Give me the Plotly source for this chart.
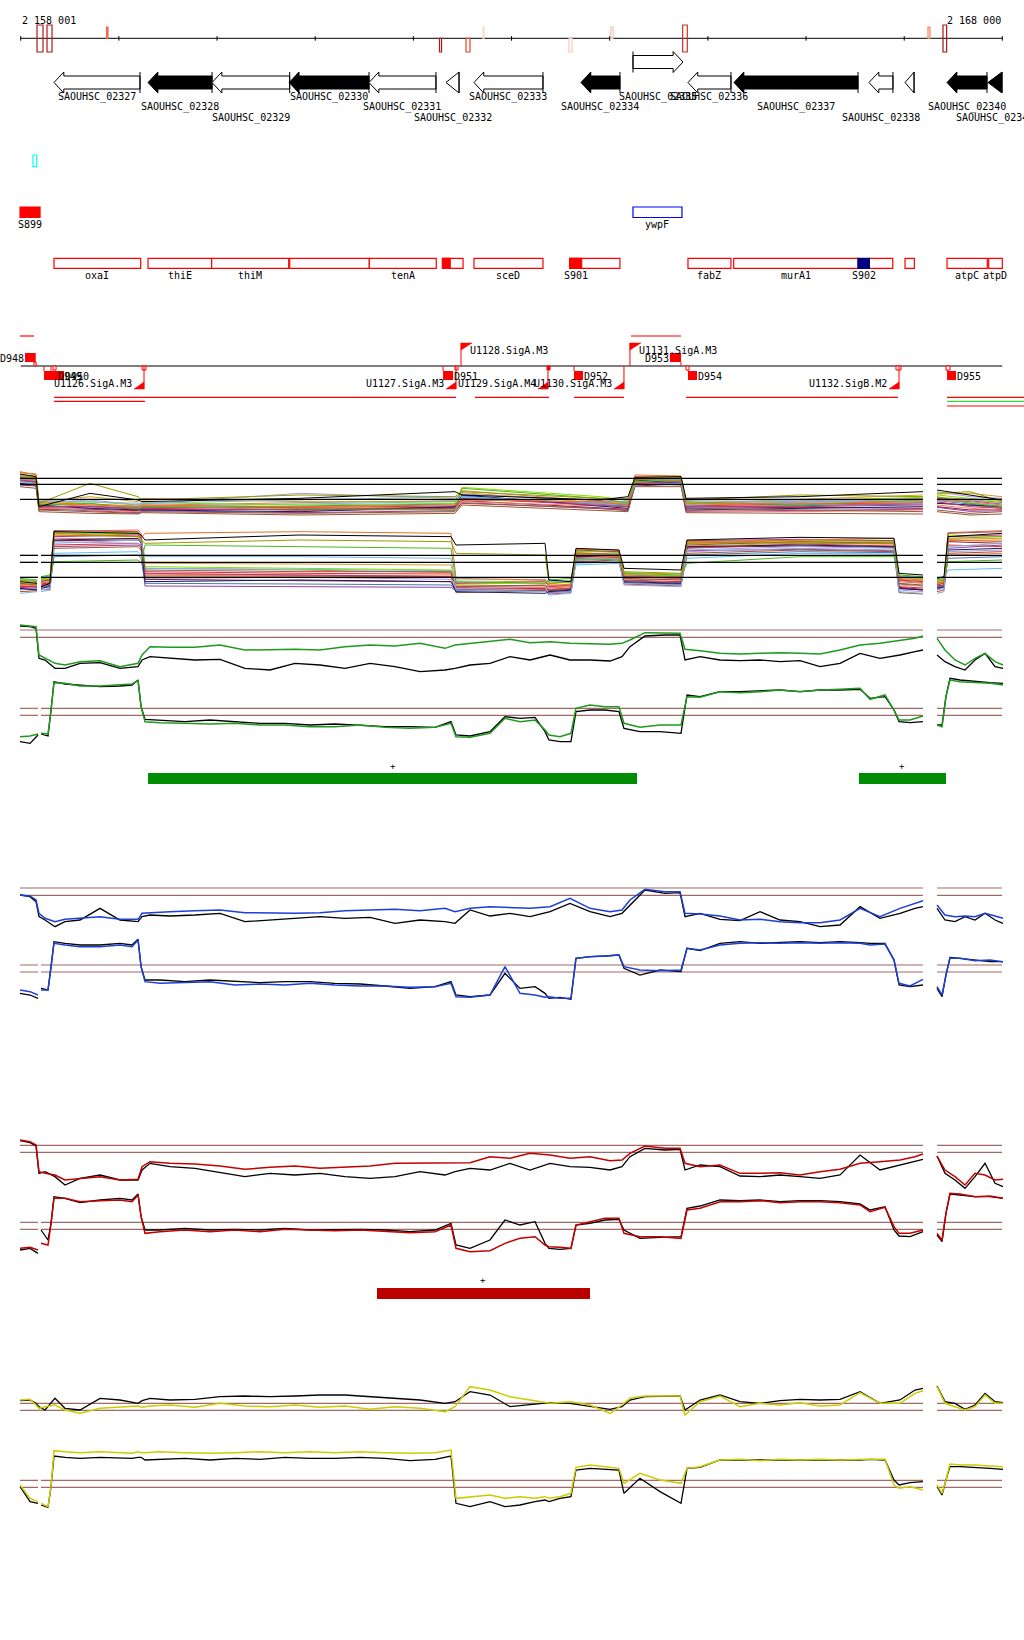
import plotly.graph_objects as go

# ======================= DATA (positions = bp offset from REGION_START) =======================
REGION_START = 2158001
REGION_END = 2168000
COORD_LABELS = ["2 158 001", "2 168 000"]
COORD_LABEL_POS = [0, 9999]
AXIS_TICKS = [0, 1000, 2000, 3000, 4000, 5000, 6000, 7000, 8000, 9000, 9999]

# small features drawn on the coordinate ruler
MARK_START = [166, 268, 874, 4266, 4536, 4709, 5585, 6010, 6743, 9242, 9395]
MARK_END = [227, 319, 889, 4287, 4577, 4719, 5616, 6033, 6790, 9262, 9432]
MARK_SIDE = ["both", "both", "up", "down", "down", "up", "down", "up", "both", "up", "both"]
MARK_COLOR = ["#b01818", "#b01818", "#f0694a", "#b01818", "#e0402a", "#f9d9cf",
              "#f7c9bb", "#f3c2b2", "#c8321f", "#f4835e", "#a81414"]
MARK_FILLED = [False, False, True, False, False, True, False, False, False, False, False]

# genes
GENE_NAME = ["SAOUHSC_02327", "SAOUHSC_02328", "SAOUHSC_02329", "SAOUHSC_02330", "SAOUHSC_02331",
             "SAOUHSC_02332", "SAOUHSC_02333", "SAOUHSC_02334", "SAOUHSC_02335", "SAOUHSC_02336",
             "SAOUHSC_02337", "SAOUHSC_02338", "SAOUHSC_02339", "SAOUHSC_02340", "SAOUHSC_02341"]
GENE_START = [339, 1297, 1949, 2735, 3548, 4332, 4617, 5707, 6237, 6797, 7266, 8641, 9008, 9436, 9853]
GENE_END = [1215, 1949, 2740, 3548, 4230, 4465, 5320, 6104, 6746, 7235, 8529, 8885, 9100, 9843, 9996]
GENE_STRAND = ["-", "-", "-", "-", "-", "-", "-", "-", "+", "-", "-", "-", "-", "-", "-"]
GENE_BLACK = [0, 1, 0, 1, 0, 0, 0, 1, 0, 0, 1, 0, 0, 1, 1]
GENE_LABEL_ROW = [0, 1, 2, 0, 1, 2, 0, 1, 0, 0, 1, 2, None, 1, 2]

# small cyan feature
CYAN_START, CYAN_END = 125, 163

# feature row
FEAT_NAME = ["S899", "ywpF"]
FEAT_START = [-7, 6237]
FEAT_END = [197, 6736]
FEAT_FILL = ["#ff0000", None]
FEAT_LINE = ["#ff0000", "#0000ff"]

# operon / transcription units row
OPERON_LABEL = ["oxaI", "thiE", "thiM", "", "tenA", "", "sceD", "", "fabZ", "murA1", "", "", "atpC", "atpD"]
OPERON_START = [339, 1297, 1945, 2740, 3551, 4296, 4617, 5592, 6797, 7263, 8645, 9008, 9436, 9860]
OPERON_END = [1222, 1945, 2730, 3551, 4233, 4506, 5320, 6104, 7235, 8529, 8883, 9103, 9846, 9999]
SFEAT_NAME = ["", "S901", "S902"]
SFEAT_START = [4296, 5592, 8529]
SFEAT_END = [4375, 5714, 8645]
SFEAT_COLOR = ["#ff0000", "#ff0000", "#000080"]

# terminators
TERM_NAME = ["D948", "D949", "D950", "D951", "D952", "D953", "D954", "D955"]
TERM_START = [44, 237, 309, 4302, 5636, 6613, 6797, 9436]
TERM_END = [153, 370, 441, 4404, 5728, 6726, 6889, 9527]
TERM_STRAND = ["+", "-", "-", "-", "-", "+", "-", "-"]

# promoters
PROM_NAME = ["U1126.SigA.M3", "U1127.SigA.M3", "U1128.SigA.M3", "U1129.SigA.M4",
             "U1130.SigA.M3", "U1131.SigA.M3", "U1132.SigB.M2"]
PROM_POS = [1256, 4434, 4485, 5371, 6145, 6206, 8947]
PROM_STRAND = ["-", "-", "+", "-", "-", "+", "-"]

# start sites on the promoter line
SITE_START = [135, 329, 1236, 4424, 5361, 6777, 8916, 9425]
SITE_END = [156, 360, 1276, 4455, 5392, 6808, 8967, 9466]
SITE_SIDE = ["up", "down", "down", "down", "down", "down", "down", "down"]
SITE_FILLED = [0, 0, 0, 0, 1, 0, 0, 0]

# transcripts
TX_START = [-7, 6216, 339, 4627, 5636, 6777, 9436, 339, 9436, 9436]
TX_END = [135, 6726, 4434, 5381, 6145, 8937, 10220, 1266, 10220, 10220]
TX_ROW = [0, 0, 1, 1, 1, 1, 1, 2, 2, 3]
TX_COLOR = ["#ff0000"] * 8 + ["#33dd33", "#ff0000"]

# significance bars
GREEN_BAR_START = [1297, 8539]
GREEN_BAR_END = [6278, 9425]
RED_BAR_START = [3629]
RED_BAR_END = [5799]

# ---------- expression profiles ----------
# upper strand grid (bp)
U_POS = [-7, 95, 156, 186, 248, 349, 451, 604, 808, 1011, 1195, 1236, 1317, 1520, 1775, 2030, 2284,
         2539, 2794, 3048, 3303, 3558, 3812, 4067, 4322, 4424, 4577, 4780, 4984, 5188, 5392, 5595,
         5799, 6003, 6125, 6206, 6359, 6563, 6716, 6767, 6920, 7123, 7327, 7531, 7735, 7938, 8142,
         8346, 8550, 8753, 8957, 9110, 9191, None, 9334, 9415, 9517, 9619, 9721, 9823, 9925, 10006]
# lower strand grid (bp)
L_POS = [-7, 95, 176, None, 207, 278, 309, 339, 451, 604, 808, 1011, 1134, 1195, 1226, 1266, 1419,
         1673, 1928, 2182, 2437, 2692, 2947, 3201, 3456, 3711, 3965, 4220, 4383, 4434, 4577, 4780,
         4933, 5086, 5239, 5341, 5381, 5493, 5605, 5656, 5799, 5952, 6094, 6145, 6308, 6512, 6726,
         6787, 6920, 7123, 7327, 7531, 7735, 7938, 8142, 8346, 8550, 8652, 8804, 8896, 8947, 9059,
         9191, None, 9334, 9385, 9425, 9466, 9568, 9721, 9874, 10006]

GREEN_UP_COLOR = [15.5, 15.2, 15.0, 6.5, 5.5, 4.0, 3.5, 4.5, 4.8, 3.0, 4.0, 6.5, 9.0, 8.8, 8.8, 9.5, 8.0,
                  8.2, 8.2, 8.0, 9.0, 9.5, 9.2, 10.0, 8.5, 9.5, 10.0, 10.5, 11.2, 10.2, 10.5, 10.0, 9.8,
                  9.7, 10.0, 11.0, 13.2, 13.0, 13.0, 8.2, 7.8, 7.0, 6.8, 7.0, 7.2, 7.0, 6.8, 8.0, 9.5,
                  10.0, 10.8, 11.5, 12.2, None, 11.5, 8.0, 5.0, 3.5, 5.5, 7.0, 4.5, 3.5]
GREEN_UP_BLACK = [15.2, 15.0, 14.5, 5.5, 5.0, 2.5, 2.5, 4.0, 4.2, 2.5, 3.0, 5.0, 6.0, 5.5, 5.0, 5.2, 2.5,
                  2.0, 4.0, 3.5, 2.5, 4.0, 3.0, 1.5, 2.0, 2.5, 3.5, 4.0, 6.0, 5.0, 6.5, 5.0, 5.0, 4.7,
                  6.0, 9.0, 12.2, 12.5, 12.5, 5.0, 6.0, 5.0, 4.8, 5.0, 4.5, 4.8, 3.0, 4.0, 7.0, 5.5,
                  6.5, 7.5, 8.0, None, 6.5, 4.5, 3.0, 2.0, 5.0, 7.0, 3.0, 2.5]
GREEN_LOW_COLOR = [4.0, 4.2, 4.8, None, 5.0, 4.8, 12.0, 20.2, 20.0, 19.2, 19.2, 19.5, 19.8, 20.8, 13.0,
                   8.5, 8.2, 8.0, 7.8, 8.0, 7.5, 7.5, 7.0, 7.0, 7.5, 6.8, 6.5, 6.8, 8.0, 4.0, 3.8, 5.0,
                   9.5, 8.5, 9.0, 6.0, 4.5, 4.0, 5.0, 12.5, 13.5, 13.0, 13.0, 8.0, 6.8, 7.5, 7.5, 16.0,
                   15.8, 17.5, 17.2, 17.5, 18.0, 17.5, 18.0, 18.2, 18.5, 15.2, 16.5, 12.0, 9.0, 9.0,
                   10.2, None, 7.5, 7.0, 16.0, 21.0, 20.5, 20.2, 20.0, 19.5]
GREEN_LOW_BLACK = [2.5, 2.0, 4.5, None, 4.8, 4.2, 12.0, 20.5, 19.8, 19.5, 19.0, 19.2, 19.5, 21.0, 13.0,
                   9.2, 9.0, 8.5, 9.0, 8.5, 8.0, 8.0, 7.5, 7.8, 7.5, 7.0, 7.0, 6.8, 8.5, 4.5, 4.2, 5.5,
                   10.0, 9.5, 9.8, 5.5, 3.0, 2.5, 2.5, 11.5, 12.0, 12.0, 11.5, 6.5, 5.5, 5.5, 5.0, 16.5,
                   16.0, 17.5, 17.5, 17.8, 18.0, 17.5, 18.0, 18.0, 18.2, 15.5, 16.0, 12.0, 8.5, 8.2,
                   8.5, None, 7.5, 7.5, 16.0, 21.5, 21.0, 20.5, 20.2, 20.0]

BLUE_UP_COLOR = [10.5, 10.2, 9.0, 5.0, 3.5, 2.5, 3.2, 3.5, 4.0, 3.2, 3.2, 5.0, 5.2, 5.5, 5.8, 6.0, 5.2,
                 5.0, 5.0, 5.2, 5.8, 6.0, 6.2, 5.8, 6.5, 5.5, 6.5, 7.0, 6.8, 6.5, 7.0, 9.5, 6.5, 5.5,
                 6.0, 9.0, 12.2, 11.5, 11.5, 5.0, 4.8, 4.2, 3.0, 3.2, 2.5, 2.2, 2.2, 3.0, 6.5, 4.0,
                 6.5, 8.0, 8.8, None, 7.5, 4.5, 4.0, 4.2, 4.0, 5.0, 4.2, 3.5]
BLUE_UP_BLACK = [10.5, 10.0, 8.5, 4.0, 3.0, 1.0, 2.5, 3.0, 6.5, 3.0, 2.5, 4.0, 4.5, 4.2, 4.5, 5.0, 2.5,
                 3.0, 3.5, 4.0, 3.5, 3.8, 2.0, 3.0, 2.5, 2.0, 6.0, 4.2, 5.0, 4.0, 5.5, 8.0, 5.5, 4.0,
                 5.0, 7.5, 12.0, 11.0, 11.2, 4.0, 5.0, 3.2, 2.8, 5.5, 3.0, 2.5, 1.0, 1.5, 7.0, 3.5,
                 5.0, 6.5, 7.0, None, 6.5, 3.0, 2.5, 4.0, 3.0, 5.0, 3.0, 2.0]
BLUE_LOW_COLOR = [5.0, 4.5, 3.5, None, 5.0, 5.0, 12.0, 19.0, 18.5, 18.0, 18.0, 18.5, 18.0, 20.0, 12.0,
                  7.5, 7.0, 7.2, 7.5, 6.5, 6.8, 6.5, 7.0, 6.5, 6.2, 6.2, 5.8, 6.0, 7.0, 3.0, 2.8, 3.5,
                  12.0, 4.0, 3.5, 2.8, 3.0, 2.5, 2.5, 14.5, 15.0, 15.2, 15.5, 12.0, 11.0, 10.8, 11.0,
                  17.5, 17.0, 18.5, 19.0, 19.2, 19.0, 19.2, 19.0, 19.2, 19.0, 18.5, 18.8, 14.0, 7.0,
                  6.2, 8.2, None, 6.0, 3.5, 9.5, 14.5, 14.5, 13.8, 14.0, 13.5]
BLUE_LOW_BLACK = [4.0, 3.5, 2.5, None, 5.5, 5.0, 12.0, 19.5, 19.0, 18.5, 18.5, 19.0, 18.5, 20.2, 12.0,
                  8.0, 8.0, 7.5, 8.0, 7.5, 7.2, 7.5, 7.5, 7.0, 6.8, 6.2, 5.5, 6.0, 7.5, 3.5, 3.0, 3.5,
                  10.0, 5.5, 6.0, 4.0, 2.5, 2.8, 2.2, 14.5, 15.0, 15.2, 15.5, 11.5, 9.5, 11.0, 10.5,
                  17.5, 16.8, 19.0, 19.5, 19.0, 19.2, 19.5, 19.2, 19.5, 19.2, 19.0, 19.0, 14.0, 6.5,
                  6.0, 6.5, None, 5.5, 3.0, 9.5, 14.8, 14.5, 14.0, 13.5, 13.5]

RED_UP_COLOR = [15.0, 14.5, 13.5, 5.5, 5.0, 4.5, 3.0, 3.5, 4.0, 3.0, 3.2, 7.0, 8.5, 8.0, 7.8, 7.2, 6.2,
                6.8, 7.2, 6.5, 6.8, 7.2, 8.0, 8.0, 8.2, 8.0, 8.2, 10.0, 9.5, 11.0, 10.5, 9.5, 10.0, 8.8,
                9.0, 11.0, 13.2, 12.5, 12.5, 8.0, 7.0, 7.5, 5.0, 5.0, 5.2, 4.5, 5.5, 6.2, 8.0, 8.5,
                9.0, 10.0, 10.8, None, 10.2, 6.0, 4.0, 1.5, 5.0, 4.5, 3.0, 3.2]
RED_UP_BLACK = [14.8, 14.2, 13.2, 5.0, 5.5, 4.0, 1.5, 3.5, 4.5, 3.0, 3.0, 6.0, 8.0, 7.0, 6.5, 5.2, 4.0,
                5.0, 4.5, 5.0, 4.0, 3.5, 4.0, 5.5, 4.5, 5.5, 6.5, 6.0, 8.0, 6.0, 8.0, 7.0, 6.8, 6.0,
                7.0, 10.0, 12.5, 12.0, 12.2, 6.0, 7.5, 7.0, 4.2, 4.0, 4.5, 4.0, 3.5, 4.5, 10.5, 6.0,
                7.5, 8.5, 9.2, None, 10.2, 5.0, 3.0, 0.5, 4.0, 8.0, 2.0, 1.0]
RED_LOW_COLOR = [3.5, 3.8, 3.0, None, 5.0, 4.5, 11.0, 18.5, 18.5, 17.5, 17.8, 18.0, 17.5, 19.5, 13.0,
                 8.0, 8.5, 9.0, 8.5, 9.0, 8.5, 9.2, 9.0, 8.8, 9.0, 8.5, 8.2, 8.5, 10.5, 3.5, 2.5, 2.8,
                 5.0, 6.5, 7.0, 4.5, 4.0, 3.8, 3.5, 10.5, 11.5, 12.5, 12.5, 8.0, 7.0, 7.0, 6.5, 15.0,
                 15.5, 17.5, 17.5, 17.8, 17.2, 17.5, 17.5, 17.2, 16.5, 14.5, 15.8, 10.0, 8.0, 8.0,
                 9.0, None, 8.0, 6.0, 14.0, 20.0, 19.8, 19.0, 19.2, 18.5]
RED_LOW_BLACK = [3.0, 3.5, 2.0, None, 9.0, 6.0, 11.0, 19.0, 18.5, 17.2, 18.0, 18.5, 18.0, 19.8, 13.0,
                 9.0, 9.0, 9.5, 9.0, 9.2, 9.0, 9.5, 9.0, 9.2, 9.2, 9.0, 8.5, 9.0, 11.0, 4.5, 3.5, 6.0,
                 12.0, 10.5, 11.5, 5.0, 3.5, 3.2, 3.5, 10.5, 11.0, 12.0, 12.2, 9.0, 6.5, 6.8, 7.0,
                 15.5, 16.2, 18.0, 17.8, 18.0, 17.5, 17.8, 17.8, 17.5, 16.8, 15.0, 16.0, 9.0, 7.2,
                 7.0, 8.5, None, 7.5, 5.5, 14.0, 19.8, 19.5, 19.0, 19.0, 18.5]

YELLOW_UP_COLOR = [7.0, 7.2, 5.5, 4.5, 5.0, 5.5, 4.0, 3.0, 4.5, 4.8, 5.2, 4.8, 5.2, 5.5, 4.8, 6.0, 5.2,
                   5.0, 5.5, 4.8, 5.2, 4.2, 5.0, 4.5, 3.5, 5.0, 11.0, 10.0, 8.0, 7.0, 6.0, 6.5, 5.5, 3.0,
                   5.5, 7.5, 8.2, 8.2, 8.2, 2.5, 6.5, 8.2, 5.0, 6.0, 5.5, 6.2, 5.2, 5.5, 9.2, 6.0, 6.0,
                   9.0, 9.8, None, 11.0, 6.0, 5.0, 4.0, 5.0, 8.5, 6.0, 6.0]
YELLOW_UP_BLACK = [6.8, 7.0, 6.0, 5.0, 4.0, 7.5, 4.5, 4.0, 7.5, 7.0, 6.0, 6.8, 7.5, 7.0, 7.2, 8.0, 8.2,
                   8.0, 8.2, 8.5, 8.5, 8.0, 7.5, 7.0, 6.0, 6.5, 9.5, 8.5, 5.0, 5.5, 6.2, 6.0, 5.0, 4.2,
                   5.0, 7.0, 8.0, 8.2, 8.2, 4.0, 7.0, 8.5, 6.5, 6.0, 6.8, 7.2, 7.0, 7.2, 9.5, 6.0, 7.0,
                   10.0, 10.5, None, 11.2, 6.5, 6.0, 4.2, 5.5, 9.0, 6.5, 6.2]
YELLOW_LOW_COLOR = [8.5, 4.5, 3.5, None, 3.0, 2.0, 8.0, 18.8, 18.5, 18.2, 18.5, 18.2, 18.0, 18.5, 18.2,
                    18.2, 18.5, 18.2, 18.0, 18.2, 18.5, 18.2, 18.5, 18.2, 18.5, 18.2, 18.0, 18.2, 19.0,
                    4.5, 5.0, 5.5, 4.5, 5.0, 4.5, 5.0, 4.5, 5.0, 6.0, 13.8, 14.5, 14.0, 13.5, 9.0, 12.0,
                    10.0, 9.0, 13.5, 14.0, 16.0, 16.2, 15.8, 16.2, 16.0, 16.2, 16.0, 16.2, 16.2, 16.2,
                    8.5, 7.5, 8.0, 7.0, None, 8.5, 6.0, 10.0, 14.8, 14.5, 14.5, 14.2, 14.0]
YELLOW_LOW_BLACK = [8.0, 3.5, 3.0, None, 2.5, 1.8, 8.0, 17.2, 16.8, 16.5, 16.8, 16.5, 16.5, 16.8, 16.8,
                    16.0, 16.2, 16.5, 16.0, 16.5, 16.2, 16.8, 16.5, 16.5, 16.8, 16.5, 15.8, 16.2, 17.2,
                    3.0, 2.0, 3.5, 2.0, 2.5, 3.5, 4.0, 3.5, 4.5, 5.0, 13.0, 13.5, 13.2, 13.0, 6.0, 10.5,
                    6.5, 3.0, 13.5, 13.8, 16.0, 16.0, 15.8, 16.0, 16.0, 15.8, 16.0, 16.0, 16.2, 16.0,
                    10.0, 8.5, 9.2, 9.5, None, 8.0, 5.5, 10.0, 14.0, 14.0, 13.8, 13.5, 13.2]

# thresholds (upper pair, lower pair) per panel
GREEN_THRESH = ([14.0, 11.8], [12.5, 10.4])
BLUE_THRESH = ([12.6, 10.4], [12.5, 10.4])
RED_THRESH = ([13.4, 11.3], [11.3, 9.2])
YELLOW_THRESH = ([6.0, 3.9], [9.9, 7.8])
THRESH_X_UP = [-7, 9191, None, 9334, 9996]
THRESH_X_LOW = [-7, 176, None, 207, 9191, None, 9334, 9996]

# multi-condition panel
MULTI_UP_POS = [-7, 156, 186, 706, 1195, 1236, 2845, 4424, 4495, 5901, 6186, 6257, 6726, 6777, 7938,
                9191, None, 9334, 9670, 9996]
MULTI_LOW_POS = [-7, 166, None, 207, 298, 339, 1195, 1226, 1266, 2845, 4383, 4434, 5341, 5381, 5605,
                 5656, 6094, 6145, 6726, 6787, 7938, 8896, 8947, 9191, None, 9334, 9405, 9446, 9996]
MULTI_COLORS = ["#000000", "#9a9a00", "#e8702a", "#4cb81c", "#7fb2e5", "#8b5a4a", "#c0307a", "#1a1a60",
                "#f08060", "#a89ad8", "#80e000", "#e03030", "#a0522d", "#5cc0f0", "#8b1c4a", "#d4a020",
                "#4a78b0", "#cd8540", "#9040a0", "#ff6040"]
MULTI_UP = [
    [14.8, 14.0, 5.0, 9.0, 7.0, 6.5, 7.5, 9.5, 8.5, 7.0, 8.0, 13.8, 14.0, 7.5, 8.0, 9.5, None, 10.0, 8.5, 7.0],
    [13.5, 13.0, 6.0, 12.0, 8.0, 7.0, 8.5, 8.0, 9.5, 7.5, 7.5, 13.0, 13.5, 7.0, 8.5, 8.0, None, 9.0, 9.5, 6.5],
    [15.5, 14.5, 6.5, 5.5, 5.0, 5.5, 5.0, 5.5, 7.0, 6.5, 5.5, 14.5, 14.2, 6.0, 6.0, 6.5, None, 7.0, 6.5, 5.5],
    [14.0, 13.5, 5.5, 6.0, 4.5, 5.0, 4.5, 4.0, 10.5, 7.5, 6.0, 12.5, 13.0, 6.5, 5.5, 7.0, None, 8.0, 6.0, 5.0],
    [12.5, 12.0, 6.8, 6.5, 6.0, 6.0, 7.0, 8.0, 8.0, 6.0, 6.0, 11.5, 12.0, 5.5, 7.0, 6.0, None, 6.5, 7.0, 6.0],
    [11.0, 10.5, 4.0, 3.5, 3.0, 3.5, 3.0, 3.5, 6.0, 4.5, 4.0, 11.0, 11.0, 4.5, 4.0, 3.5, None, 4.0, 3.0, 3.5],
    [13.0, 12.5, 5.0, 5.0, 4.5, 4.5, 4.0, 4.5, 7.5, 5.5, 5.0, 12.0, 12.5, 5.0, 5.0, 5.5, None, 6.5, 5.0, 4.5],
    [12.0, 11.5, 5.5, 4.5, 4.0, 4.0, 3.5, 5.0, 8.5, 5.0, 4.5, 13.0, 12.0, 4.0, 4.5, 5.0, None, 6.0, 5.5, 5.0],
    [14.2, 13.8, 4.5, 4.0, 3.5, 5.5, 3.8, 4.2, 6.5, 5.2, 5.0, 12.2, 12.6, 3.8, 3.5, 4.0, None, 5.5, 4.5, 4.0],
    [13.2, 12.8, 6.2, 7.0, 5.5, 5.8, 9.0, 7.5, 8.8, 6.8, 6.5, 12.8, 13.2, 6.8, 6.5, 7.5, None, 9.5, 8.0, 7.5],
    [14.6, 14.2, 5.8, 6.5, 5.5, 6.2, 5.5, 6.0, 10.8, 8.0, 6.8, 13.5, 14.0, 6.2, 6.8, 7.8, None, 8.5, 7.5, 6.5],
    [13.8, 13.2, 4.8, 5.2, 4.2, 4.8, 4.8, 5.2, 7.2, 6.0, 5.8, 13.2, 13.0, 5.2, 5.8, 6.2, None, 7.5, 6.8, 5.8],
    [12.8, 12.2, 3.5, 3.0, 2.8, 3.2, 2.5, 3.0, 5.5, 4.0, 3.5, 11.8, 11.5, 3.2, 3.0, 2.8, None, 3.5, 2.5, 2.8],
    [12.2, 11.8, 5.2, 4.8, 5.0, 5.2, 5.8, 6.5, 7.8, 5.8, 5.5, 12.0, 12.2, 5.8, 6.2, 6.8, None, 7.2, 6.2, 5.2],
    [11.5, 11.2, 4.2, 4.2, 3.8, 4.2, 4.2, 4.8, 6.8, 4.8, 4.2, 11.2, 11.8, 4.5, 4.8, 4.5, None, 5.0, 4.0, 4.2],
    [13.6, 13.0, 6.5, 8.0, 6.5, 7.5, 6.5, 6.5, 9.2, 6.2, 6.2, 12.6, 12.8, 6.0, 7.2, 8.5, None, 8.8, 9.0, 8.0],
    [12.6, 12.4, 4.6, 4.6, 4.8, 4.6, 5.2, 5.8, 8.2, 5.6, 5.2, 12.4, 12.4, 4.8, 5.2, 5.8, None, 6.8, 5.8, 4.8],
    [14.4, 13.6, 5.6, 5.8, 5.2, 5.4, 6.2, 6.8, 9.8, 6.6, 6.4, 13.2, 13.6, 5.4, 6.4, 7.2, None, 7.8, 7.2, 6.2],
    [13.4, 12.6, 4.4, 3.8, 3.2, 3.8, 3.2, 3.8, 6.2, 4.4, 3.8, 11.6, 12.2, 3.6, 3.8, 4.2, None, 4.8, 3.6, 3.8],
    [15.2, 14.8, 6.0, 5.0, 4.8, 5.0, 4.6, 4.6, 7.6, 5.8, 5.6, 14.0, 13.8, 5.6, 5.4, 6.0, None, 6.2, 5.4, 4.6],
]
MULTI_LOW = [
    [5.5, 5.0, None, 4.0, 5.0, 20.5, 20.0, 19.5, 18.0, 19.5, 19.0, 16.5, 17.0, 6.0, 5.5, 15.5, 15.0, 9.5, 9.0, 18.0, 18.8, 18.5, 8.0, 7.5, None, 6.5, 7.0, 19.0, 20.0],
    [6.0, 5.5, None, 6.5, 6.0, 20.0, 19.0, 18.0, 17.0, 18.0, 17.5, 14.0, 13.5, 5.0, 5.5, 14.0, 13.5, 8.5, 8.0, 17.5, 17.0, 17.0, 7.0, 6.5, None, 5.5, 6.0, 18.5, 19.0],
    [4.5, 4.5, None, 5.0, 5.5, 19.5, 19.0, 18.5, 20.0, 20.5, 20.0, 6.5, 6.0, 4.5, 4.5, 13.5, 13.0, 7.5, 7.0, 17.0, 18.0, 18.5, 6.5, 6.0, None, 5.0, 5.5, 18.0, 17.5],
    [6.5, 6.0, None, 7.0, 7.5, 11.5, 12.0, 11.0, 16.5, 16.0, 15.5, 5.5, 5.0, 6.0, 6.5, 12.5, 12.0, 8.0, 7.5, 11.0, 13.0, 13.0, 7.5, 7.0, None, 6.0, 6.5, 11.5, 12.0],
    [2.0, 2.5, None, 2.5, 3.0, 17.0, 18.0, 17.5, 13.0, 13.0, 12.5, 3.0, 2.5, 1.5, 2.0, 11.0, 11.5, 5.0, 4.5, 15.0, 16.0, 15.5, 2.5, 2.0, None, 3.0, 3.5, 16.0, 17.0],
    [5.0, 4.5, None, 5.5, 6.0, 20.8, 20.5, 19.0, 9.0, 8.5, 8.5, 4.0, 4.5, 3.0, 3.5, 15.0, 14.5, 6.5, 6.0, 16.5, 17.5, 17.0, 5.0, 4.5, None, 4.0, 4.5, 20.0, 20.5],
    [4.0, 4.0, None, 4.5, 5.0, 19.0, 19.5, 18.5, 8.0, 7.5, 7.0, 5.0, 5.5, 4.0, 4.5, 14.0, 13.8, 7.0, 6.5, 17.8, 18.2, 17.8, 6.0, 5.5, None, 4.5, 5.0, 19.0, 19.5],
    [3.5, 3.0, None, 3.5, 4.0, 18.0, 18.5, 17.0, 5.5, 6.0, 5.5, 2.5, 2.0, 2.5, 3.0, 13.0, 13.5, 5.5, 5.0, 16.0, 16.5, 16.0, 3.5, 3.0, None, 3.5, 4.0, 15.0, 15.5],
    [4.8, 4.2, None, 5.2, 5.6, 18.5, 18.2, 17.8, 7.5, 7.0, 6.8, 4.2, 4.0, 3.8, 4.2, 13.6, 13.4, 6.2, 6.0, 16.8, 17.2, 16.8, 4.5, 4.2, None, 4.8, 5.2, 13.5, 14.0],
    [3.0, 3.5, None, 3.0, 3.5, 17.5, 17.0, 16.5, 6.5, 6.8, 6.2, 3.5, 3.8, 2.0, 2.5, 12.0, 12.5, 4.5, 4.0, 14.5, 15.5, 15.0, 3.0, 2.5, None, 2.0, 2.5, 14.5, 15.0],
    [5.2, 4.8, None, 6.0, 6.5, 19.8, 20.2, 19.2, 10.0, 9.5, 9.0, 4.8, 5.0, 5.0, 5.2, 14.8, 14.2, 7.5, 7.2, 17.2, 17.8, 17.5, 6.8, 6.2, None, 5.2, 5.8, 19.5, 19.0],
    [3.8, 3.4, None, 4.2, 4.8, 16.5, 17.0, 16.0, 8.5, 8.0, 7.8, 3.8, 3.2, 3.2, 3.6, 12.8, 13.0, 6.0, 5.5, 15.5, 16.8, 16.2, 4.0, 3.6, None, 3.2, 3.8, 16.5, 16.0],
    [2.5, 2.8, None, 3.2, 3.0, 15.5, 16.0, 15.0, 7.2, 7.2, 6.8, 2.2, 2.8, 1.8, 2.2, 11.5, 12.0, 4.8, 4.2, 14.0, 15.0, 14.5, 2.2, 1.8, None, 2.5, 3.0, 14.0, 14.5],
    [6.2, 5.8, None, 6.8, 7.2, 14.0, 14.5, 13.5, 9.5, 9.2, 8.8, 6.0, 6.2, 5.5, 5.8, 10.5, 11.0, 7.8, 7.2, 12.5, 14.0, 13.8, 7.2, 6.8, None, 6.2, 6.8, 9.0, 9.5],
    [4.2, 3.8, None, 4.8, 5.2, 17.8, 18.0, 17.2, 6.2, 5.8, 5.5, 3.2, 3.5, 2.8, 3.2, 13.2, 12.8, 5.2, 4.8, 15.8, 16.2, 15.8, 3.8, 3.2, None, 4.2, 4.5, 17.5, 17.0],
    [5.8, 5.2, None, 6.2, 6.8, 19.2, 19.8, 18.8, 11.0, 10.8, 10.5, 5.2, 5.8, 4.8, 5.5, 14.2, 14.8, 8.2, 7.8, 16.2, 17.0, 16.8, 6.2, 5.8, None, 5.8, 6.2, 18.2, 18.5],
    [3.2, 3.0, None, 3.8, 4.2, 13.0, 13.5, 12.5, 5.0, 4.8, 4.5, 3.0, 2.8, 2.5, 3.0, 11.8, 11.2, 5.8, 5.2, 13.5, 14.5, 14.2, 4.8, 4.2, None, 3.8, 4.2, 12.5, 13.0],
    [4.5, 4.8, None, 5.8, 6.2, 20.2, 19.8, 19.5, 7.8, 7.5, 7.2, 4.5, 4.2, 4.2, 4.8, 14.5, 14.6, 6.8, 6.5, 17.0, 17.5, 17.2, 5.5, 5.0, None, 4.5, 5.2, 17.8, 18.0],
    [3.4, 3.2, None, 4.0, 4.4, 16.0, 16.5, 15.8, 4.2, 4.0, 3.8, 2.8, 3.0, 2.2, 2.6, 12.2, 12.4, 5.0, 4.6, 14.8, 15.2, 14.8, 3.4, 3.0, None, 3.6, 4.0, 15.5, 16.5],
    [5.0, 4.6, None, 5.6, 6.0, 20.6, 21.0, 20.0, 9.5, 9.0, 8.2, 4.0, 4.4, 3.6, 4.0, 15.2, 15.0, 7.2, 6.8, 17.4, 18.0, 17.6, 5.8, 5.2, None, 5.0, 5.5, 20.2, 20.8],
]
MULTI_UP_REF = [13.5, 11.7, 7.2]
MULTI_LOW_REF = [13.4, 11.3, 6.8]

# ======================= STYLE / LAYOUT =======================
W, H = 1024, 1640
X_RANGE = [-211, 10220]
BP_PER_PX = 10.186
PX_PER_UNIT = 10.0 / 3.0
FONT = dict(family="DejaVu Sans Mono", size=10, color="black")
BROWN = "#a06a64"

fig = go.Figure()
shapes, annotations = [], []


def rect(x0, x1, y0, y1, line=None, fill=None, width=1.0):
    shapes.append(dict(type="rect", xref="x", yref="y", x0=x0, x1=x1, y0=y0, y1=y1,
                       line=dict(color=line if line else "rgba(0,0,0,0)", width=width if line else 0),
                       fillcolor=fill if fill else "rgba(0,0,0,0)", layer="above"))


def seg(x0, x1, y0, y1, color="black", width=1.0):
    shapes.append(dict(type="line", xref="x", yref="y", x0=x0, x1=x1, y0=y0, y1=y1,
                       line=dict(color=color, width=width)))


def poly(pts, fill, line="black", width=1.0):
    path = "M " + " L ".join(f"{x},{y}" for x, y in pts) + " Z"
    shapes.append(dict(type="path", xref="x", yref="y", path=path, fillcolor=fill,
                       line=dict(color=line, width=width)))


def text(x, y, s, anchor="center", size=10):
    f = dict(FONT)
    f["size"] = size
    annotations.append(dict(x=x, y=y, xref="x", yref="y", text=s, showarrow=False, xanchor=anchor,
                            yanchor="middle", font=f, borderpad=0))


# ---- coordinate ruler ----
RULER_Y = 38.3
seg(AXIS_TICKS[0], AXIS_TICKS[-1], RULER_Y, RULER_Y)
for t in AXIS_TICKS:
    seg(t, t, RULER_Y - 2.2, RULER_Y + 2.4)
text(COORD_LABEL_POS[0], 20, COORD_LABELS[0], "left")
text(COORD_LABEL_POS[1], 20, COORD_LABELS[1], "right")
MARK_Y = {"both": (25, 52), "up": (27, RULER_Y), "down": (RULER_Y, 52)}
for s, e, side, c, filled in zip(MARK_START, MARK_END, MARK_SIDE, MARK_COLOR, MARK_FILLED):
    y0, y1 = MARK_Y[side]
    rect(s, e, y0, y1, line=c, fill=c if filled else None, width=1.2)

# ---- genes ----
GENE_Y = {"-": 82.5, "+": 62}
BODY_H, HEAD_H, HEAD_BP = 6.5, 10.5, 100
LABEL_Y = [97, 107, 117.5]
for name, s, e, strand, black, row in zip(GENE_NAME, GENE_START, GENE_END, GENE_STRAND,
                                          GENE_BLACK, GENE_LABEL_ROW):
    yc = GENE_Y[strand]
    if strand == "-":
        tip, tail, sign = s, e, 1
    else:
        tip, tail, sign = e, s, -1
    if e - s <= 150:
        pts = [(tail, yc - HEAD_H), (tip, yc), (tail, yc + HEAD_H)]
    else:
        base = tip + sign * HEAD_BP
        pts = [(tail, yc - BODY_H), (base, yc - BODY_H), (base, yc - HEAD_H), (tip, yc),
               (base, yc + HEAD_H), (base, yc + BODY_H), (tail, yc + BODY_H)]
    poly(pts, "black" if black else "white")
    seg(tail, tail, yc - HEAD_H, yc + HEAD_H)
    if row is not None:
        text((s + e) / 2, LABEL_Y[row], name)

# ---- cyan feature ----
rect(CYAN_START, CYAN_END, 155, 166.7, line="#00ffff", width=1.2)

# ---- feature row ----
for n, s, e, f, l in zip(FEAT_NAME, FEAT_START, FEAT_END, FEAT_FILL, FEAT_LINE):
    rect(s, e, 207, 217.5, line=l, fill=f, width=1.2)
    text((s + e) / 2, 224.5, n)

# ---- operon row ----
OP_Y0, OP_Y1, OP_LAB = 258.3, 268.3, 275.7
for n, s, e in zip(OPERON_LABEL, OPERON_START, OPERON_END):
    rect(s, e, OP_Y0, OP_Y1, line="#ff0000", fill="white", width=1.2)
    if n:
        text((s + e) / 2, OP_LAB, n)
for n, s, e, c in zip(SFEAT_NAME, SFEAT_START, SFEAT_END, SFEAT_COLOR):
    rect(s, e, OP_Y0, OP_Y1, line=c, fill=c, width=1.2)
    if n:
        text((s + e) / 2, OP_LAB, n)

# ---- promoter / terminator track ----
LINE_Y = 366
seg(0, 9999, LINE_Y, LINE_Y, width=1.2)
for n, s, e, st in zip(TERM_NAME, TERM_START, TERM_END, TERM_STRAND):
    if st == "+":
        rect(s, e, 353, 362, fill="#ff0000")
        seg(e, e, 362, LINE_Y, color="#ff0000")
        text(s - 0.2 * BP_PER_PX, 358, n, "right")
    else:
        rect(s, e, 371, 380, fill="#ff0000")
        seg(s, s, LINE_Y, 371, color="#ff0000")
        text(e, 376, n, "left")
for s, e, side, filled in zip(SITE_START, SITE_END, SITE_SIDE, SITE_FILLED):
    y0, y1 = (LINE_Y, 370) if side == "down" else (362, LINE_Y)
    rect(s, e, y0, y1, line="#ff0000", fill="#ff0000" if filled else "white", width=1)
for n, p, st in zip(PROM_NAME, PROM_POS, PROM_STRAND):
    if st == "-":
        seg(p, p, LINE_Y, 389, color="#ff0000")
        poly([(p - 10 * BP_PER_PX, 389), (p, 389), (p, 382)], "#ff0000", line="#ff0000", width=0.5)
        text(p - 11 * BP_PER_PX, 383, n, "right")
    else:
        seg(p, p, LINE_Y, 343, color="#ff0000")
        poly([(p, 343), (p + 11 * BP_PER_PX, 343), (p, 350)], "#ff0000", line="#ff0000", width=0.5)
        text(p + 8 * BP_PER_PX, 350, n, "left")
TX_ROW_Y = [336, 397.3, 401.3, 406]
for s, e, r, c in zip(TX_START, TX_END, TX_ROW, TX_COLOR):
    seg(s, e, TX_ROW_Y[r], TX_ROW_Y[r], color=c, width=1.2)

# ---- significance bars ----
for s, e in zip(GREEN_BAR_START, GREEN_BAR_END):
    rect(s, e, 773, 784, fill="#008c00")
    text((s + e) / 2, 766, "+", size=9)
for s, e in zip(RED_BAR_START, RED_BAR_END):
    rect(s, e, 1288, 1299, fill="#bb0000")
    text((s + e) / 2, 1280, "+", size=9)

# ---- expression panels: each strand has its own value axis ----
layout_axes = {}
axis_count = [1]


def new_axis(base_px, top_value):
    axis_count[0] += 1
    k = axis_count[0]
    top_px = base_px - top_value * PX_PER_UNIT
    layout_axes[f"yaxis{k}"] = dict(domain=[1 - base_px / H, 1 - top_px / H], range=[0, top_value],
                                    visible=False, anchor="x", fixedrange=True)
    return f"y{k}"


def line_trace(ax, xs, ys, color, width):
    assert len(xs) == len(ys), (len(xs), len(ys))
    fig.add_trace(go.Scatter(x=xs, y=ys, mode="lines", yaxis=ax, xaxis="x", hoverinfo="skip",
                             showlegend=False, cliponaxis=False, line=dict(color=color, width=width)))


def thresholds(ax, xs, vals, color, width):
    for v in vals:
        line_trace(ax, xs, [None if x is None else v for x in xs], color, width)


# multi-condition panel
ax_mu = new_axis(523.33, 18)
ax_ml = new_axis(600.0, 22.5)
for vals, c in reversed(list(zip(MULTI_UP, MULTI_COLORS))):
    line_trace(ax_mu, MULTI_UP_POS, vals, c, 1)
for vals, c in reversed(list(zip(MULTI_LOW, MULTI_COLORS))):
    line_trace(ax_ml, MULTI_LOW_POS, vals, c, 1)
thresholds(ax_mu, THRESH_X_UP, MULTI_UP_REF, "black", 1.3)
thresholds(ax_ml, THRESH_X_LOW, MULTI_LOW_REF, "black", 1.3)

PANELS = [
    ("#1f9a1f", (676.67, 18), (750.0, 24), GREEN_UP_COLOR, GREEN_UP_BLACK, GREEN_LOW_COLOR,
     GREEN_LOW_BLACK, GREEN_THRESH),
    ("#1d3fd6", (930.0, 15), (1006.67, 22), BLUE_UP_COLOR, BLUE_UP_BLACK, BLUE_LOW_COLOR,
     BLUE_LOW_BLACK, BLUE_THRESH),
    ("#c40000", (1190.0, 18), (1260.0, 21), RED_UP_COLOR, RED_UP_BLACK, RED_LOW_COLOR,
     RED_LOW_BLACK, RED_THRESH),
    ("#cccc00", (1423.33, 16), (1513.33, 21), YELLOW_UP_COLOR, YELLOW_UP_BLACK, YELLOW_LOW_COLOR,
     YELLOW_LOW_BLACK, YELLOW_THRESH),
]
for color, up_ax, low_ax, uc, ub, lc, lb, th in PANELS:
    au = new_axis(*up_ax)
    al = new_axis(*low_ax)
    thresholds(au, THRESH_X_UP, th[0], BROWN, 1.2)
    thresholds(al, THRESH_X_LOW, th[1], BROWN, 1.2)
    line_trace(au, U_POS, ub, "black", 1.3)
    line_trace(au, U_POS, uc, color, 1.5)
    line_trace(al, L_POS, lb, "black", 1.3)
    line_trace(al, L_POS, lc, color, 1.5)

fig.update_layout(
    width=W, height=H, margin=dict(l=0, r=0, t=0, b=0), autosize=False,
    paper_bgcolor="white", plot_bgcolor="rgba(0,0,0,0)", showlegend=False,
    xaxis=dict(range=X_RANGE, visible=False, domain=[0, 1], fixedrange=True),
    yaxis=dict(range=[H, 0], visible=False, domain=[0, 1], fixedrange=True),
    shapes=shapes, annotations=annotations,
    **layout_axes,
)
fig.write_html("out.html", config={"displayModeBar": False, "staticPlot": True},
               post_script="document.body.style.margin='0px';document.body.style.padding='0px';")
